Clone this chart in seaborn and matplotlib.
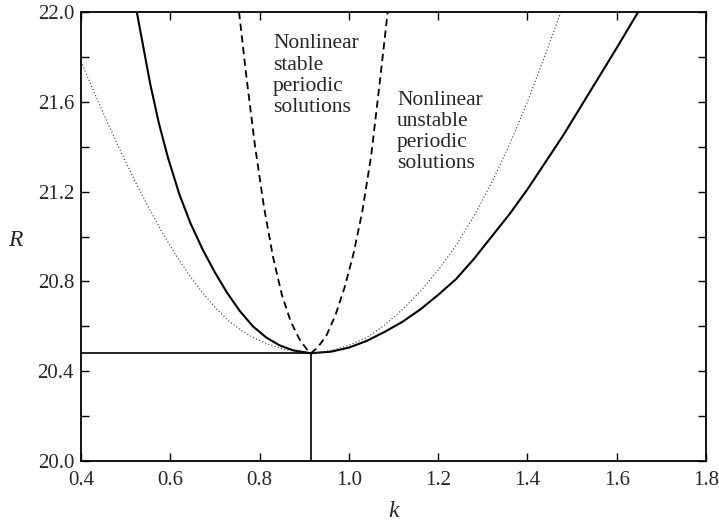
import matplotlib
matplotlib.use("Agg")
import matplotlib.pyplot as plt
import seaborn as sns

# ---- data ----
# solid curve (neutral stability)
k_neutral = [0.525, 0.54, 0.555, 0.575, 0.595, 0.62, 0.645, 0.673, 0.70, 0.727,
             0.755, 0.785, 0.815, 0.845, 0.875, 0.915,
             0.96, 1.00, 1.04, 1.08, 1.12, 1.16, 1.20, 1.24, 1.28, 1.32,
             1.36, 1.40, 1.44, 1.48, 1.52, 1.56, 1.60, 1.648]
R_neutral = [22.0, 21.84, 21.68, 21.50, 21.35, 21.19, 21.06, 20.94, 20.84, 20.75,
             20.67, 20.60, 20.55, 20.515, 20.493, 20.48,
             20.487, 20.505, 20.535, 20.575, 20.62, 20.675, 20.74, 20.81, 20.90, 21.00,
             21.10, 21.21, 21.33, 21.45, 21.58, 21.71, 21.84, 22.0]

# dotted curve
k_dotted = [0.40, 0.43, 0.46, 0.49, 0.52, 0.55, 0.58, 0.61, 0.64, 0.67, 0.70,
            0.73, 0.76, 0.79, 0.82, 0.85, 0.88, 0.915,
            0.96, 1.00, 1.04, 1.08, 1.12, 1.16, 1.20, 1.24, 1.28, 1.32,
            1.36, 1.40, 1.44, 1.475]
R_dotted = [21.78, 21.64, 21.505, 21.375, 21.25, 21.135, 21.025, 20.925, 20.835,
            20.755, 20.685, 20.625, 20.58, 20.545, 20.52, 20.50, 20.487, 20.48,
            20.492, 20.515, 20.55, 20.605, 20.675, 20.755, 20.85, 20.96, 21.09,
            21.24, 21.41, 21.60, 21.81, 22.0]

# dashed curve
k_dashed = [0.754, 0.77, 0.79, 0.81, 0.83, 0.85, 0.87, 0.89, 0.905, 0.915,
            0.93, 0.95, 0.97, 0.99, 1.01, 1.03, 1.05, 1.07, 1.087]
R_dashed = [22.0, 21.72, 21.40, 21.13, 20.91, 20.74, 20.62, 20.54, 20.50, 20.48,
            20.505, 20.56, 20.65, 20.77, 20.92, 21.11, 21.36, 21.70, 22.0]

k_crit = 0.915
R_crit = 20.48
k_hline = [0.4, k_crit]
R_hline = [R_crit, R_crit]
k_vline = [k_crit, k_crit]
R_vline = [20.0, R_crit]

x_ticks = [0.4, 0.6, 0.8, 1.0, 1.2, 1.4, 1.6, 1.8]
y_ticks = [20.0, 20.4, 20.8, 21.2, 21.6, 22.0]
y_minor = [20.2, 20.6, 21.0, 21.4, 21.8]

label_stable = "Nonlinear\nstable\nperiodic\nsolutions"
label_unstable = "Nonlinear\nunstable\nperiodic\nsolutions"

# ---- figure ----
sns.set_theme(style="ticks")
plt.rcParams['font.family'] = ['Liberation Serif', 'DejaVu Serif']

fig = plt.figure(figsize=(7.19, 5.21), dpi=100)
ax = fig.add_axes([81/719, 1 - 461/521, (706 - 81)/719, (461 - 12)/521])

sns.lineplot(x=k_neutral, y=R_neutral, ax=ax, sort=False, estimator=None,
             color="black", lw=1.5)
sns.lineplot(x=k_dotted, y=R_dotted, ax=ax, sort=False, estimator=None,
             color="#333333", lw=0.8, linestyle=(0, (1, 2)))
sns.lineplot(x=k_dashed, y=R_dashed, ax=ax, sort=False, estimator=None,
             color="black", lw=1.3, linestyle=(0, (4, 2.5)))
sns.lineplot(x=k_hline, y=R_hline, ax=ax, sort=False, estimator=None,
             color="black", lw=1.2)
sns.lineplot(x=k_vline, y=R_vline, ax=ax, sort=False, estimator=None,
             color="black", lw=1.2)

ax.set_xlim(0.4, 1.8)
ax.set_ylim(20.0, 22.0)
ax.set_xticks(x_ticks)
ax.set_xticklabels([f"{v:.1f}" for v in x_ticks])
ax.set_yticks(y_ticks)
ax.set_yticklabels([f"{v:.1f}" for v in y_ticks])
ax.set_yticks(y_minor, minor=True)

ax.tick_params(axis="both", which="both", direction="in", top=True, right=True,
               length=6, width=1.0, color="black", labelsize=15)
ax.tick_params(axis="x", pad=7)
ax.tick_params(axis="y", pad=5)
for s in ax.spines.values():
    s.set_visible(True)
    s.set_linewidth(1.3)
    s.set_color("black")

ax.set_xlabel("k", fontsize=17, fontstyle="italic", labelpad=8)
ax.set_ylabel("R", fontsize=17, fontstyle="italic", rotation=0, va="center")
ax.yaxis.set_label_coords(-0.105, 0.492)

ax.text(0.83, 21.90, label_stable, fontsize=15.5, va="top", ha="left",
        linespacing=1.15)
ax.text(1.108, 21.65, label_unstable, fontsize=15.5, va="top", ha="left",
        linespacing=1.15)

fig.savefig("out.png", dpi=100)
